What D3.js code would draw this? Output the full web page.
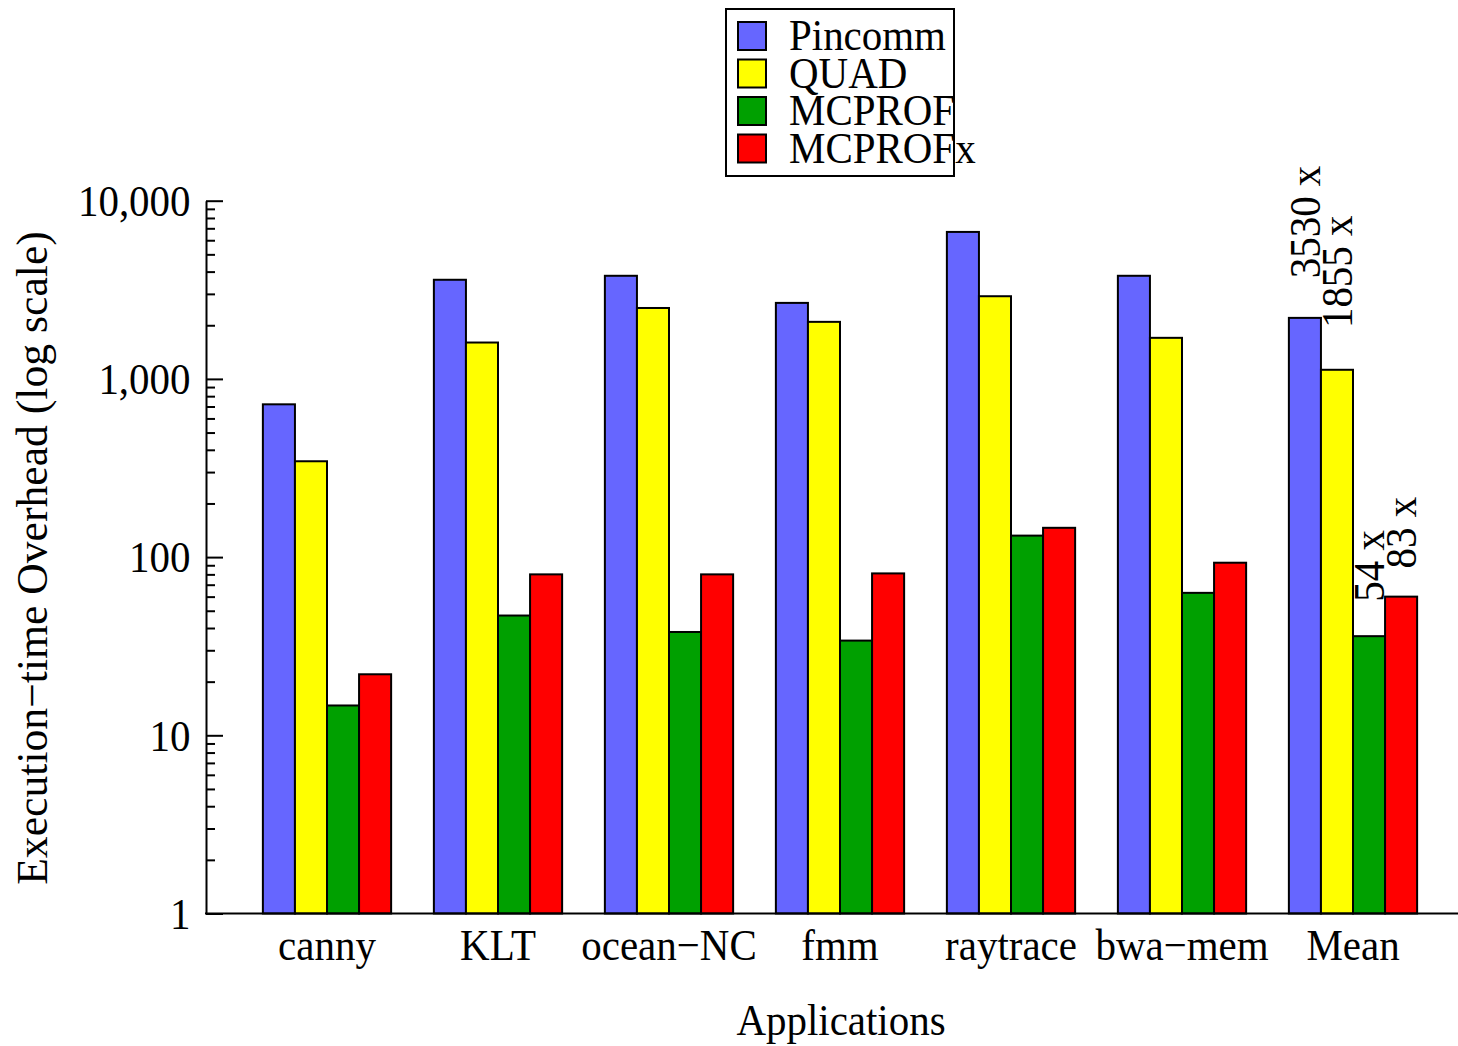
<!DOCTYPE html>
<html>
<head>
<meta charset="utf-8">
<script src="https://cdn.jsdelivr.net/npm/d3@7"></script>
<style>
  body { margin: 0; background: #fff; }
  text { font-family: "Liberation Serif", "Times New Roman", serif; fill: #000; }
</style>
</head>
<body>
<svg id="chart" width="1458" height="1046"></svg>
<script>
// Execution-time overhead per application and profiling tool
const applications = ["canny", "KLT", "ocean\u2212NC", "fmm", "raytrace", "bwa\u2212mem", "Mean"];
const tools = ["Pincomm", "QUAD", "MCPROF", "MCPROFx"];
const pincomm = [720, 3600, 3790, 2670, 6680, 3790, 2200];
const quad    = [345, 1600, 2500, 2090, 2910, 1700, 1125];
const mcprof  = [14.7, 47, 38, 34, 132, 63, 36];
const mcprofx = [22, 80, 80, 81, 146, 93, 60];
// Annotated average overheads above the Mean group
const meanLabels = [3530, 1855, 54, 83];
const yTickValues = [1, 10, 100, 1000, 10000];
const colors = ["#6666ff", "#ffff00", "#00a000", "#ff0000"];

const seriesValues = [pincomm, quad, mcprof, mcprofx];
const FONT = 45, SX = 0.91;   // narrow Times-style lettering

const svg = d3.select("#chart");

const x = d3.scaleBand().domain(applications).range([241.5, 1438.5])
  .paddingInner(0.25).paddingOuter(0.125);
const xs = d3.scaleBand().domain(tools).range([0, x.bandwidth()]);
const y = d3.scaleLog().domain([1, 10000]).range([913.5, 200.7]);
const axisX = 206;

// Bars
const rows = applications.map((app, i) => ({ app, vals: tools.map((t, j) => ({ tool: t, v: seriesValues[j][i], c: colors[j] })) }));
const groups = svg.append("g").selectAll("g").data(rows).join("g")
  .attr("transform", d => `translate(${x(d.app)},0)`);
groups.selectAll("rect").data(d => d.vals).join("rect")
  .attr("x", d => xs(d.tool))
  .attr("y", d => y(d.v))
  .attr("width", xs.bandwidth())
  .attr("height", d => y(1) - y(d.v))
  .attr("fill", d => d.c)
  .attr("stroke", "#000")
  .attr("stroke-width", 2);

// Y axis: major ticks with labels, minor ticks in between (ticks point inward)
const minor = [];
for (let p = 1; p < 10000; p *= 10) for (let k = 2; k <= 9; k++) minor.push(p * k);

const yAxis = svg.append("g").attr("transform", `translate(${axisX},0)`)
  .call(d3.axisLeft(y).tickValues(yTickValues).tickSize(-17).tickSizeOuter(0)
    .tickPadding(17).tickFormat(d3.format(",")));
yAxis.select(".domain").attr("stroke", "#000").attr("stroke-width", 2);
yAxis.selectAll(".tick line").attr("stroke", "#000").attr("stroke-width", 2);
yAxis.selectAll(".tick text")
  .attr("font-family", null).attr("font-size", FONT).attr("dy", "0.33em")
  .attr("transform", `scale(${SX},1)`);
yAxis.attr("font-family", null).attr("font-size", null);

const yMinor = svg.append("g").attr("transform", `translate(${axisX},0)`)
  .call(d3.axisLeft(y).tickValues(minor).tickSize(-9).tickSizeOuter(0).tickFormat(""));
yMinor.select(".domain").remove();
yMinor.selectAll(".tick line").attr("stroke", "#000").attr("stroke-width", 2);

// X axis baseline and category labels
svg.append("line").attr("x1", axisX - 1).attr("x2", 1458)
  .attr("y1", y(1)).attr("y2", y(1)).attr("stroke", "#000").attr("stroke-width", 2);

function label(g, tx, ty, str, anchor, rot, sx = SX) {
  return g.append("text")
    .attr("transform", `translate(${tx},${ty})${rot ? ` rotate(${rot})` : ""} scale(${sx},1)`)
    .attr("text-anchor", anchor).attr("font-size", FONT).text(str);
}

applications.forEach(app => label(svg, x(app) + x.bandwidth() / 2, 960, app, "middle"));

// Axis titles
label(svg, 841, 1035, "Applications", "middle");
label(svg, 47, 558, "Execution\u2212time Overhead (log scale)", "middle", -90, 0.97);

// Average overhead annotations on the Mean group
tools.forEach((t, j) => {
  const cx = x("Mean") + xs(t) + xs.bandwidth() / 2 + 15;
  label(svg, cx, y(meanLabels[j]) - 3, `${meanLabels[j]} x`, "start", -90);
});

// Legend
const lg = svg.append("g");
lg.append("rect").attr("x", 726).attr("y", 9).attr("width", 228).attr("height", 167)
  .attr("fill", "#fff");
tools.forEach((t, j) => {
  lg.append("rect").attr("x", 738).attr("y", 22 + j * 37.5).attr("width", 28).attr("height", 28)
    .attr("fill", colors[j]).attr("stroke", "#000").attr("stroke-width", 2);
  label(lg, 789, 50 + j * 37.5, t, "start");
});
lg.append("rect").attr("x", 726).attr("y", 9).attr("width", 228).attr("height", 167)
  .attr("fill", "none").attr("stroke", "#000").attr("stroke-width", 2);
</script>
</body>
</html>
